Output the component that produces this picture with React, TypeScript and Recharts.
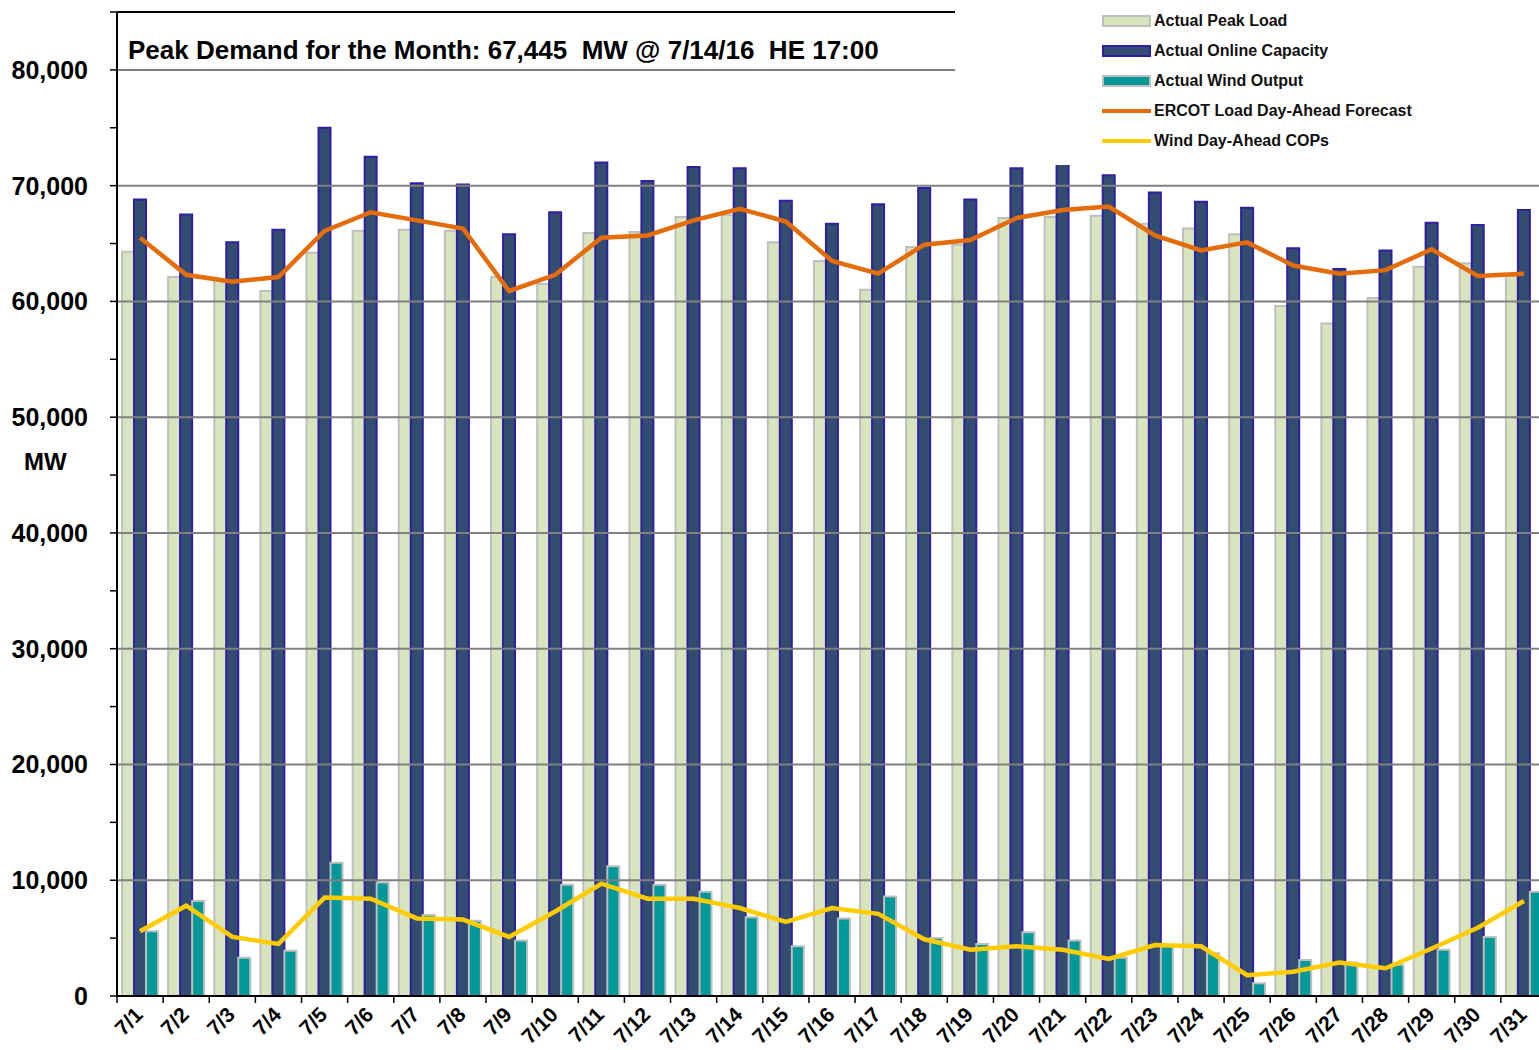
import React from "react";
import {
  ComposedChart,
  Bar,
  Line,
  XAxis,
  YAxis,
  ReferenceLine,
  Legend,
} from "recharts";

const days = [
  "7/1", "7/2", "7/3", "7/4", "7/5", "7/6", "7/7", "7/8", "7/9", "7/10",
  "7/11", "7/12", "7/13", "7/14", "7/15", "7/16", "7/17", "7/18", "7/19", "7/20",
  "7/21", "7/22", "7/23", "7/24", "7/25", "7/26", "7/27", "7/28", "7/29", "7/30",
  "7/31",
];

const peakLoad = [
  64300, 62100, 61800, 60900, 64200, 66100, 66200, 66100, 62100, 61500,
  65900, 66000, 67300, 67445, 65100, 63500, 61000, 64700, 64900, 67200,
  67300, 67400, 66700, 66300, 65800, 59600, 58100, 60300, 63000, 63300,
  62200,
];

const onlineCapacity = [
  68800, 67500, 65100, 66200, 75000, 72500, 70200, 70100, 65800, 67700,
  72000, 70400, 71600, 71500, 68700, 66700, 68400, 69800, 68800, 71500,
  72300, 70900, 69400, 68600, 68100, 64600, 62800, 64400, 66800, 66600,
  67900,
];

const windOutput = [
  5600, 8200, 3300, 3900, 11500, 9800, 7000, 6500, 4800, 9600,
  11200, 9600, 9000, 6800, 4300, 6700, 8600, 5000, 4500, 5500,
  4800, 3300, 4300, 3700, 1100, 3100, 2900, 2700, 4000, 5100,
  9000,
];

const loadForecast = [
  65500, 62300, 61700, 62100, 66100, 67700, 67000, 66300, 60900, 62300,
  65500, 65700, 67000, 68000, 66900, 63500, 62400, 64900, 65300, 67200,
  67900, 68200, 65700, 64400, 65100, 63100, 62400, 62700, 64500, 62200,
  62400,
];

const windCops = [
  5600, 7800, 5100, 4500, 8500, 8400, 6700, 6600, 5100, 7300,
  9700, 8400, 8400, 7600, 6400, 7600, 7100, 4900, 4000, 4300,
  4000, 3200, 4400, 4300, 1800, 2100, 2900, 2400, 4100, 5900,
  8200,
];

const yTicks = [
  0, 5000, 10000, 15000, 20000, 25000, 30000, 35000, 40000, 45000,
  50000, 55000, 60000, 65000, 70000, 75000, 80000, 85000,
];
const gridValues = [10000, 20000, 30000, 40000, 50000, 60000, 70000, 80000];

const data = days.map((day, i) => ({
  day,
  peakLoad: peakLoad[i],
  onlineCapacity: onlineCapacity[i],
  windOutput: windOutput[i],
  loadForecast: loadForecast[i],
  windCops: windCops[i],
}));

const FONT = '"Liberation Sans", Arial, sans-serif';

const legendItems = [
  { label: "Actual Peak Load", kind: "bar", fill: "#d7e4bd", stroke: "#bfbfbf" },
  { label: "Actual Online Capacity", kind: "bar", fill: "#344d73", stroke: "#2f1fa3" },
  { label: "Actual Wind Output", kind: "bar", fill: "#009999", stroke: "#bfbfbf" },
  { label: "ERCOT Load Day-Ahead Forecast", kind: "line", stroke: "#e46c0a" },
  { label: "Wind Day-Ahead COPs", kind: "line", stroke: "#ffcc00" },
];

const YTick = (props: any) => {
  const { x, y, payload } = props;
  if (payload.value % 10000 !== 0) return <g />;
  return (
    <text
      x={x}
      y={y}
      dy="0.355em"
      textAnchor="end"
      fontFamily={FONT}
      fontWeight="bold"
      fontSize={25}
      fill="#000"
    >
      {payload.value.toLocaleString("en-US")}
    </text>
  );
};

// labels sit between the boundary ticks, like Excel's category axis
const DayTick = (props: any) => {
  const { x, y, payload, index } = props;
  const half = payload.offset ?? 23;
  return (
    <g>
      <line x1={x - half} x2={x - half} y1={y} y2={y + 7} stroke="#000" strokeWidth={1.5} />
      {index === days.length - 1 && (
        <line x1={x + half} x2={x + half} y1={y} y2={y + 7} stroke="#000" strokeWidth={1.5} />
      )}
      <text
        x={x + 4}
        y={y + 20}
        textAnchor="end"
        transform={`rotate(-45, ${x + 4}, ${y + 20})`}
        fontFamily={FONT}
        fontWeight="bold"
        fontSize={21}
        fill="#000"
      >
        {payload.value}
      </text>
    </g>
  );
};

const renderLegend = () => (
  <div style={{ position: "relative", width: "100%", height: "100%", background: "#fff" }}>
    {legendItems.map((item, i) => (
      <div
        key={item.label}
        style={{
          position: "absolute",
          left: 147,
          top: 6 + i * 30,
          height: 30,
          display: "flex",
          alignItems: "center",
          whiteSpace: "nowrap",
        }}
      >
        <svg width={50} height={30} style={{ display: "block" }}>
          {item.kind === "bar" ? (
            <rect x={1} y={10} width={47} height={10} fill={item.fill} stroke={item.stroke} strokeWidth={2} />
          ) : (
            <line x1={0} x2={49} y1={15} y2={15} stroke={item.stroke} strokeWidth={4} />
          )}
        </svg>
        <span
          style={{
            marginLeft: 2,
            fontFamily: FONT,
            fontWeight: "bold",
            fontSize: 16,
            lineHeight: "30px",
            color: "#111",
          }}
        >
          {item.label}
        </span>
      </div>
    ))}
  </div>
);

export default function App() {
  return (
    <div
      style={{
        position: "absolute",
        left: 0,
        top: 0,
        width: 1539,
        height: 1050,
        overflow: "hidden",
        background: "#fff",
      }}
    >
      <ComposedChart
        width={1547}
        height={1050}
        data={data}
        margin={{ top: 12, right: 0, bottom: 0, left: 0 }}
        barGap={0}
        barSize={12}
      >
        <XAxis
          dataKey="day"
          interval={0}
          height={54}
          tickSize={0}
          tickMargin={0}
          tickLine={false}
          axisLine={{ stroke: "#000", strokeWidth: 2 }}
          tick={<DayTick />}
        />
        <YAxis
          width={117}
          domain={[0, 85000]}
          ticks={yTicks}
          interval={0}
          allowDataOverflow
          tickSize={7}
          tickMargin={22}
          axisLine={{ stroke: "#000", strokeWidth: 2 }}
          tickLine={{ stroke: "#000", strokeWidth: 1.5 }}
          tick={<YTick />}
        />
        {gridValues.map((v) => (
          <ReferenceLine key={v} y={v} stroke="#808080" strokeWidth={2} />
        ))}
        <ReferenceLine y={85000} stroke="#000" strokeWidth={2} ifOverflow="visible" />
        <Bar
          dataKey="peakLoad"
          name="Actual Peak Load"
          fill="#d7e4bd"
          stroke="#bfbfbf"
          strokeWidth={2}
          isAnimationActive={false}
        />
        <Bar
          dataKey="onlineCapacity"
          name="Actual Online Capacity"
          fill="#1d3a62"
          fillOpacity={0.9}
          stroke="#2f1fa3"
          strokeWidth={2}
          isAnimationActive={false}
        />
        <Bar
          dataKey="windOutput"
          name="Actual Wind Output"
          fill="#009999"
          stroke="#bfbfbf"
          strokeWidth={2}
          isAnimationActive={false}
        />
        <Line
          type="linear"
          dataKey="loadForecast"
          name="ERCOT Load Day-Ahead Forecast"
          stroke="#e46c0a"
          strokeWidth={4.5}
          dot={false}
          isAnimationActive={false}
        />
        <Line
          type="linear"
          dataKey="windCops"
          name="Wind Day-Ahead COPs"
          stroke="#ffcc00"
          strokeWidth={4.5}
          dot={false}
          isAnimationActive={false}
        />
        <Legend
          layout="vertical"
          align="center"
          verticalAlign="middle"
          wrapperStyle={{ left: 955, top: 0, width: 592, height: 165 }}
          content={renderLegend}
        />
      </ComposedChart>
      <div
        style={{
          position: "absolute",
          left: 128,
          top: 37,
          fontFamily: FONT,
          fontWeight: "bold",
          fontSize: 26,
          lineHeight: "26px",
          whiteSpace: "pre",
          color: "#000",
        }}
      >
        {"Peak Demand for the Month: 67,445  MW @ 7/14/16  HE 17:00"}
      </div>
      <div
        style={{
          position: "absolute",
          left: 24,
          top: 450,
          fontFamily: FONT,
          fontWeight: "bold",
          fontSize: 24,
          lineHeight: "24px",
          color: "#000",
        }}
      >
        MW
      </div>
    </div>
  );
}
